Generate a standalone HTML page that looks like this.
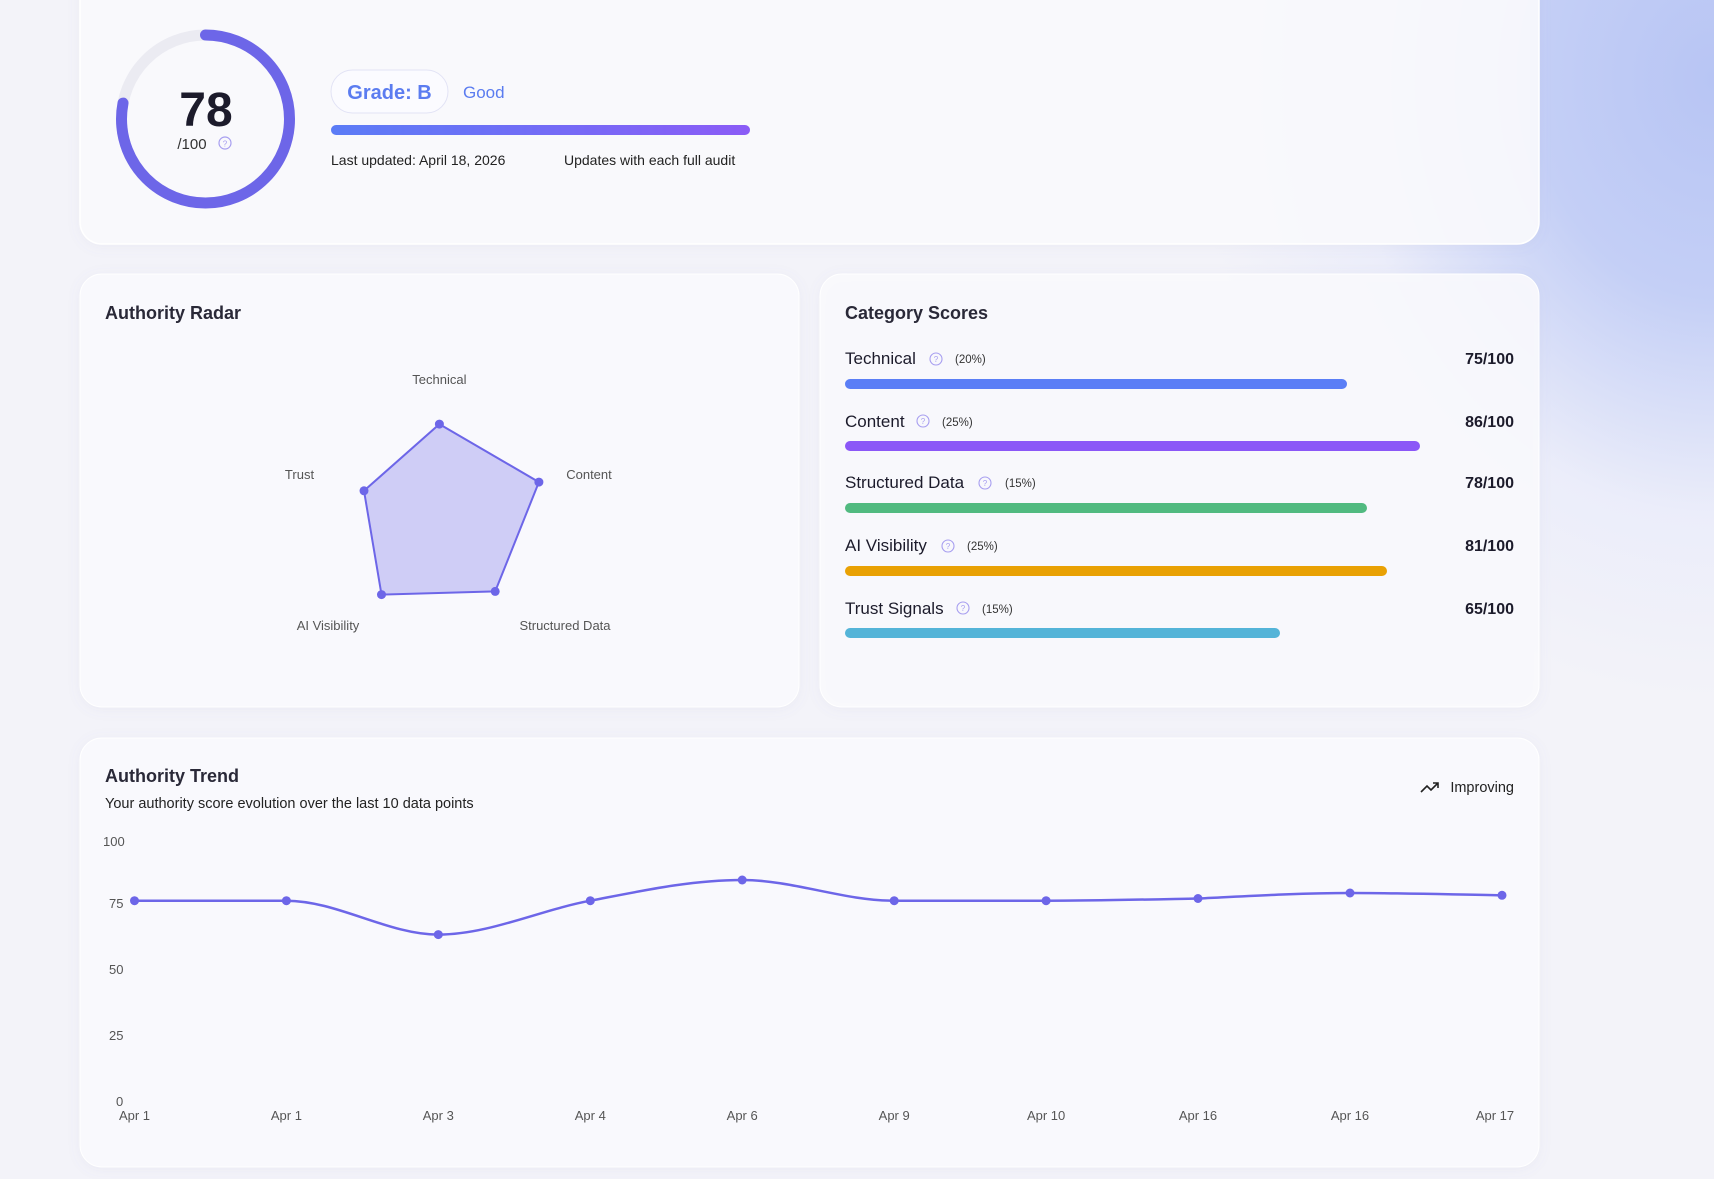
<!DOCTYPE html>
<html><head><meta charset="utf-8"><style>
html,body{margin:0;padding:0}
body{width:1714px;height:1179px;overflow:hidden;font-family:"Liberation Sans",sans-serif;
background:radial-gradient(ellipse 520px 620px at 1714px 80px,#b8c5f4 0%,#c4cff6 35%,rgba(230,233,250,0.6) 70%,rgba(244,244,250,0) 100%),#f3f3f9;}
</style></head><body>
<svg width="1714" height="1179" viewBox="0 0 1714 1179" xmlns="http://www.w3.org/2000/svg" style="position:absolute;left:0;top:0;font-family:'Liberation Sans',sans-serif">
<defs>
<linearGradient id="gb" x1="0" x2="1"><stop offset="0" stop-color="#5b7cf6"/><stop offset="1" stop-color="#8b5cf6"/></linearGradient>
<filter id="sh" x="-5%" y="-5%" width="110%" height="115%"><feDropShadow dx="0" dy="2" stdDeviation="6" flood-color="#8080b0" flood-opacity="0.08"/></filter>
</defs>
<rect x="80" y="-30" width="1459" height="274" rx="22" fill="#fafafd" fill-opacity="0.92" stroke="#ffffff" stroke-width="1.5" filter="url(#sh)"/>
<rect x="80" y="274" width="719" height="433" rx="22" fill="#fafafd" fill-opacity="0.95" stroke="#fff" filter="url(#sh)"/>
<rect x="820" y="274" width="719" height="433" rx="22" fill="#fafafd" fill-opacity="0.9" stroke="#fff" filter="url(#sh)"/>
<rect x="80" y="738" width="1459" height="429" rx="22" fill="#fafafd" fill-opacity="0.95" stroke="#fff" filter="url(#sh)"/>

<circle cx="205.5" cy="119" r="84" fill="none" stroke="#ebebf2" stroke-width="11"/>
<circle cx="205.5" cy="119" r="84" fill="none" stroke="#6d66e8" stroke-width="11" stroke-linecap="round"
 stroke-dasharray="411.7 527.8" transform="rotate(-90 205.5 119)"/>
<text x="206" y="126" text-anchor="middle" font-size="48" font-weight="bold" fill="#1c1b2b">78</text>
<text x="192" y="149" text-anchor="middle" font-size="15" fill="#333">/100</text>
<circle cx="225" cy="143" r="6" fill="none" stroke="#a79ef0" stroke-width="1.2"/>
<text x="225" y="146.5" text-anchor="middle" font-size="8" fill="#a79ef0">?</text>

<rect x="331" y="70" width="117" height="43" rx="21.5" fill="#fbfbff" stroke="#e2e3f5"/>
<text x="389.5" y="99" text-anchor="middle" font-size="20" font-weight="bold" fill="#5b7cf0">Grade: B</text>
<text x="463" y="98" font-size="17" fill="#5b7cf0">Good</text>
<rect x="331" y="125" width="419" height="10" rx="5" fill="url(#gb)"/>
<text x="331" y="165" font-size="14" fill="#222">Last updated: April 18, 2026</text>
<text x="564" y="165" font-size="14" fill="#222">Updates with each full audit</text>

<text x="105" y="319" font-size="18" font-weight="bold" fill="#2a2938">Authority Radar</text>
<polygon points="439.4,424.1 538.9,482.1 495.2,591.4 381.5,594.6 364,490.8" fill="#6d66e8" fill-opacity="0.3" stroke="#6d66e8" stroke-width="2"/>
<g fill="#6d66e8"><circle cx="439.4" cy="424.1" r="4.5"/><circle cx="538.9" cy="482.1" r="4.5"/><circle cx="495.2" cy="591.4" r="4.5"/><circle cx="381.5" cy="594.6" r="4.5"/><circle cx="364" cy="490.8" r="4.5"/></g>
<g font-size="13" fill="#555" text-anchor="middle">
<text x="439.4" y="384">Technical</text><text x="589" y="479">Content</text><text x="565" y="630">Structured Data</text><text x="328" y="630">AI Visibility</text><text x="299.5" y="479">Trust</text></g>

<text x="845" y="319" font-size="18" font-weight="bold" fill="#2a2938">Category Scores</text>
<g font-size="17" fill="#1c1b2b">
<text x="845" y="364">Technical</text><text x="845" y="427">Content</text><text x="845" y="488">Structured Data</text><text x="845" y="551">AI Visibility</text><text x="845" y="614">Trust Signals</text></g>
<g font-size="11.5" fill="#333">
<text x="955" y="363">(20%)</text><text x="942" y="426">(25%)</text><text x="1005" y="487">(15%)</text><text x="967" y="550">(25%)</text><text x="982" y="613">(15%)</text></g>
<g fill="none" stroke="#a79ef0" stroke-width="1.1">
<circle cx="936" cy="359" r="6"/><circle cx="923" cy="421" r="6"/><circle cx="985" cy="483" r="6"/><circle cx="948" cy="546" r="6"/><circle cx="963" cy="608" r="6"/></g>
<g font-size="8" fill="#a79ef0" text-anchor="middle">
<text x="936" y="362">?</text><text x="923" y="424">?</text><text x="985" y="486">?</text><text x="948" y="549">?</text><text x="963" y="611">?</text></g>
<g font-size="16" font-weight="bold" fill="#1c1b2b" text-anchor="end">
<text x="1514" y="364">75/100</text><text x="1514" y="427">86/100</text><text x="1514" y="488">78/100</text><text x="1514" y="551">81/100</text><text x="1514" y="614">65/100</text></g>
<rect x="845" y="379" width="502" height="10" rx="5" fill="#5a7ef6"/>
<rect x="845" y="441" width="575" height="10" rx="5" fill="#8b57f7"/>
<rect x="845" y="503" width="522" height="10" rx="5" fill="#51ba80"/>
<rect x="845" y="566" width="542" height="10" rx="5" fill="#e9a104"/>
<rect x="845" y="628" width="435" height="10" rx="5" fill="#54b4d8"/>

<text x="105" y="782" font-size="18" font-weight="bold" fill="#2a2938">Authority Trend</text>
<text x="105" y="808" font-size="14.5" fill="#222">Your authority score evolution over the last 10 data points</text>
<path d="M1421 792 l6 -6 l4 4 l7 -7 M1433 783 h5 v5" fill="none" stroke="#222" stroke-width="1.6"/>
<text x="1514" y="792" text-anchor="end" font-size="14.5" fill="#222">Improving</text>
<g font-size="13" fill="#555">
<text x="103" y="846">100</text><text x="109" y="908">75</text><text x="109" y="974">50</text><text x="109" y="1040">25</text><text x="116" y="1106">0</text></g>
<g font-size="13" fill="#555" text-anchor="middle">
<text x="134.5" y="1120">Apr 1</text><text x="286.4" y="1120">Apr 1</text><text x="438.3" y="1120">Apr 3</text><text x="590.3" y="1120">Apr 4</text><text x="742.2" y="1120">Apr 6</text><text x="894.2" y="1120">Apr 9</text><text x="1046.1" y="1120">Apr 10</text><text x="1198" y="1120">Apr 16</text><text x="1350" y="1120">Apr 16</text><text x="1495" y="1120">Apr 17</text></g>
<path d="M134.5 900.7 C185 900.7 236 900.7 286.4 900.7 C337 900.7 388 934.6 438.3 934.6 C489 934.6 540 910 590.3 900.7 C641 891 691 880 742.2 880 C793 880 843 900.7 894.2 900.7 C945 900.7 995 900.7 1046.1 900.7 C1097 900.7 1147 899.5 1198 898.5 C1249 896 1299 893 1350 893 C1401 893 1451 894.5 1502 895.3" fill="none" stroke="#6d66e8" stroke-width="2.5"/>
<g fill="#6d66e8"><circle cx="134.5" cy="900.7" r="4.5"/><circle cx="286.4" cy="900.7" r="4.5"/><circle cx="438.3" cy="934.6" r="4.5"/><circle cx="590.3" cy="900.7" r="4.5"/><circle cx="742.2" cy="880" r="4.5"/><circle cx="894.2" cy="900.7" r="4.5"/><circle cx="1046.1" cy="900.7" r="4.5"/><circle cx="1198" cy="898.5" r="4.5"/><circle cx="1350" cy="893" r="4.5"/><circle cx="1502" cy="895.3" r="4.5"/></g>
</svg>
</body></html>
